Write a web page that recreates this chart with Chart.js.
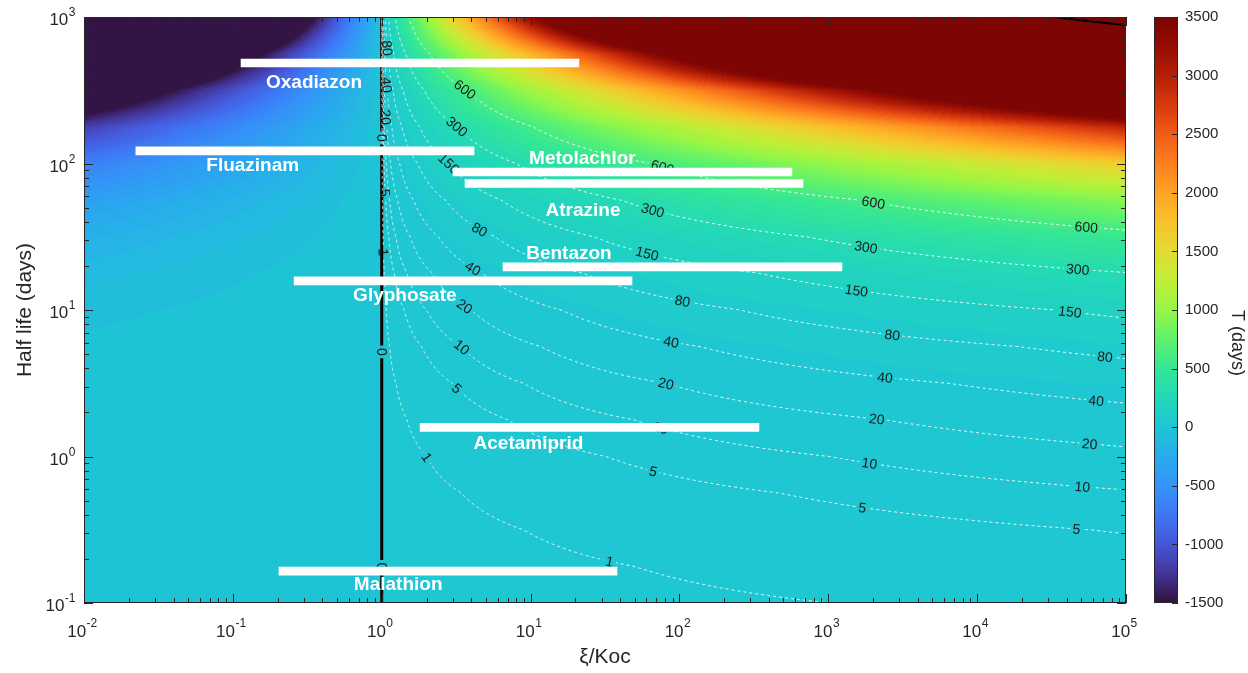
<!DOCTYPE html>
<html>
<head>
<meta charset="utf-8">
<title>Clearance time vs half life and ξ/Koc</title>
<script src="https://cdn.jsdelivr.net/npm/chart.js@4.4.1/dist/chart.umd.min.js"></script>
<style>
  html, body { margin: 0; padding: 0; background: #ffffff; }
  #wrap { width: 1248px; height: 673px; position: relative; }
</style>
</head>
<body>
<div id="wrap"><canvas id="c" width="1248" height="673"></canvas></div>
<script>
// ---------------- data ----------------
// grid nodes of the modelled surface
const xiKocNodes = [0.01, 0.0316, 0.1, 0.316, 1, 3.16, 10, 31.6, 100, 316, 1000, 3160, 10000, 31600, 100000];
const halfLifeNodes = [0.1, 0.178, 0.316, 0.562, 1, 1.78, 3.16, 5.62, 10, 17.8, 31.6, 56.2, 100, 178, 316, 562, 1000];
// T (days): one row per half-life node, one column per ξ/Koc node
const clearanceDays = [
  [-0.664, -0.498, -0.332, -0.166, 0, 0.166, 0.332, 0.498, 0.664, 0.830, 0.997, 1.16, 1.33, 1.49, 1.66],
  [-1.18, -0.886, -0.591, -0.295, 0, 0.295, 0.591, 0.886, 1.18, 1.48, 1.77, 2.07, 2.36, 2.66, 2.95],
  [-2.10, -1.58, -1.05, -0.525, 0, 0.525, 1.05, 1.58, 2.10, 2.63, 3.15, 3.68, 4.20, 4.73, 5.25],
  [-3.74, -2.80, -1.87, -0.934, 0, 0.934, 1.87, 2.80, 3.74, 4.67, 5.60, 6.54, 7.47, 8.41, 9.34],
  [-6.64, -4.98, -3.32, -1.66, 0, 1.66, 3.32, 4.98, 6.64, 8.31, 9.97, 11.6, 13.3, 14.9, 16.6],
  [-11.8, -8.86, -5.91, -2.95, 0, 2.95, 5.91, 8.86, 11.8, 14.8, 17.7, 20.7, 23.6, 26.6, 29.5],
  [-21.0, -15.8, -10.5, -5.25, 0, 5.25, 10.5, 15.8, 21.0, 26.3, 31.5, 36.8, 42.0, 47.3, 52.5],
  [-37.4, -28.0, -18.7, -9.34, 0, 9.34, 18.7, 28.0, 37.4, 46.7, 56.0, 65.4, 74.7, 84.1, 93.4],
  [-66.4, -49.8, -33.2, -16.6, 0, 16.6, 33.2, 49.8, 66.4, 83.1, 99.7, 116, 133, 149, 166],
  [-118, -88.6, -59.1, -29.5, 0, 29.5, 59.1, 88.6, 118, 148, 177, 207, 236, 266, 295],
  [-210, -158, -105, -52.5, 0, 52.5, 105, 158, 210, 263, 315, 368, 420, 473, 525],
  [-374, -280, -187, -93.4, 0, 93.4, 187, 280, 374, 467, 560, 654, 747, 841, 934],
  [-664, -498, -332, -166, 0, 166, 332, 498, 664, 831, 997, 1163, 1329, 1495, 1661],
  [-1181, -886, -591, -295, 0, 295, 591, 886, 1181, 1477, 1772, 2067, 2363, 2658, 2953],
  [-2101, -1576, -1050, -525, 0, 525, 1050, 1576, 2101, 2626, 3151, 3676, 4202, 4727, 5252],
  [-3736, -2802, -1868, -934, 0, 934, 1868, 2802, 3736, 4670, 5604, 6538, 7472, 8406, 9340],
  [-6644, -4983, -3322, -1661, 0, 1661, 3322, 4983, 6644, 8305, 9966, 11627, 13288, 14949, 16610]
];
// iso-lines of T (days)
const contourLevels = [1, 5, 10, 20, 40, 80, 150, 300, 600];
const boundaryLevels = [0, 15000];

// pesticides: half life (days) and ξ/Koc range
const pesticides = ['Oxadiazon', 'Fluazinam', 'Metolachlor', 'Atrazine', 'Bentazon', 'Glyphosate', 'Acetamiprid', 'Malathion'];
const halfLives  = [485, 122, 87.5, 73, 19.7, 15.8, 1.58, 0.165];
const xiKocLow   = [0.1135, 0.0223, 3.01, 3.63, 6.53, 0.258, 1.81, 0.204];
const xiKocHigh  = [21.1, 4.17, 570, 676, 1236, 48.0, 342, 38.1];

// axis tick labels
const xTickPowers = [-2, -1, 0, 1, 2, 3, 4, 5];
const yTickPowers = [-1, 0, 1, 2, 3];
const colorTicks = [-1500, -1000, -500, 0, 500, 1000, 1500, 2000, 2500, 3000, 3500];

// ---------------- layout of annotations ----------------
// where the iso-line labels sit (by ξ/Koc, or by half life where the line is steep)
const labelSpots = [
  { level: 600, atXi: [3.62, 76.4, 1995, 53800] },
  { level: 300, atXi: [3.21, 66.4, 1766, 46900] },
  { level: 150, atXi: [2.83, 60.5, 1560, 41400] },
  { level: 80,  atXi: [4.57, 104, 2723, 73500], atHalfLife: [614] },
  { level: 40,  atXi: [4.10, 89.1, 2366, 63800], atHalfLife: [343] },
  { level: 20,  atXi: [3.62, 81.3, 2089, 56400], atHalfLife: [207] },
  { level: 10,  atXi: [3.46, 74.0, 1875, 49900] },
  { level: 5,   atXi: [3.21, 66.4, 1710, 46100], atHalfLife: [63] },
  { level: 1,   atXi: [2.01, 34.2], atHalfLife: [24.8] },
  { level: 0,   atHalfLife: [149, 5.17, 0.178] }
];
// anchor of each pesticide name (ξ/Koc, half life)
const nameAnchors = [
  [0.351, 366], [0.136, 99], [22.3, 110], [22.5, 48.9],
  [18.1, 24.9], [1.43, 12.9], [9.68, 1.26], [1.29, 0.137]
];

const INK = '#262626';
const SANS = '"Liberation Sans", Arial, Helvetica, sans-serif';

// ---------------- colour map (turbo-like) ----------------
const turboStops = [
  [48, 18, 59], [68, 52, 150], [70, 86, 215], [62, 118, 245], [52, 148, 248],
  [40, 172, 236], [30, 197, 212], [34, 216, 184], [52, 230, 150], [95, 242, 108],
  [150, 246, 70], [192, 238, 55], [224, 220, 50], [248, 194, 42], [254, 163, 36],
  [252, 128, 30], [240, 92, 22], [214, 58, 14], [182, 30, 7], [150, 13, 3], [122, 4, 3]
];
function turbo(t) {
  t = Math.min(1, Math.max(0, t));
  const f = t * (turboStops.length - 1);
  const i = Math.min(turboStops.length - 2, Math.floor(f));
  const u = f - i;
  const a = turboStops[i], b = turboStops[i + 1];
  return [0, 1, 2].map(k => Math.round(a[k] + (b[k] - a[k]) * u));
}
const cMin = colorTicks[0], cMax = colorTicks[colorTicks.length - 1];
const bandDays = 50;
const bandCount = Math.round((cMax - cMin) / bandDays);
const bandPalette = [];
for (let k = 0; k < bandCount; k++) bandPalette.push(turbo((k + 0.5) / bandCount));
function bandColour(T) {
  let k = Math.floor((T - cMin) / bandDays);
  if (k < 0) k = 0;
  if (k > bandCount - 1) k = bandCount - 1;
  return bandPalette[k];
}

// ---------------- grid helpers ----------------
const lxi = xiKocNodes.map(v => Math.log10(v));
const lhl = halfLifeNodes.map(v => Math.log10(v));
function locate(nodes, v) {
  const n = nodes.length;
  if (v <= nodes[0]) return [0, 0];
  if (v >= nodes[n - 1]) return [n - 2, 1];
  let i = 0;
  while (i < n - 2 && v > nodes[i + 1]) i++;
  return [i, (v - nodes[i]) / (nodes[i + 1] - nodes[i])];
}
function rowAt(b) {
  const [i, s] = locate(lhl, b);
  return clearanceDays[i].map((v, j) => v * (1 - s) + clearanceDays[i + 1][j] * s);
}
// trace one iso-line through the gridded surface, row by row
function traceContour(level) {
  const pts = [];
  const b0 = lhl[0], b1 = lhl[lhl.length - 1];
  const steps = 2000;
  for (let s = 0; s <= steps; s++) {
    const b = b0 + (b1 - b0) * s / steps;
    const row = rowAt(b);
    for (let j = 0; j < row.length - 1; j++) {
      const v0 = row[j] - level, v1 = row[j + 1] - level;
      if (v0 <= 0 && v1 > 0) {
        const a = lxi[j] + (lxi[j + 1] - lxi[j]) * (-v0) / (v1 - v0);
        pts.push({ x: Math.pow(10, a), y: Math.pow(10, b) });
        break;
      }
    }
  }
  return pts;
}

// ---------------- datasets ----------------
const rangeSet = {
  type: 'bar', kind: 'range', label: 'ξ/Koc range',
  indexAxis: 'y',
  data: pesticides.map((p, i) => ({ y: halfLives[i], x: [xiKocLow[i], xiKocHigh[i]] })),
  backgroundColor: '#ffffff', borderWidth: 0, barThickness: 8, order: 0
};
const contourSets = contourLevels.map(L => ({
  type: 'line', kind: 'contour', level: L, label: 'T = ' + L,
  data: traceContour(L),
  borderColor: 'rgba(255,255,255,0.9)', borderWidth: 1, borderDash: [3, 3],
  pointRadius: 0, tension: 0, fill: false, order: 1
}));
const boundarySets = boundaryLevels.map((L, k) => ({
  type: 'line', kind: 'contour', level: L, label: 'T = ' + L,
  data: traceContour(L),
  borderColor: '#000000', borderWidth: k === 0 ? 3 : 2,
  pointRadius: 0, tension: 0, fill: false, order: 1
}));

// ---------------- plugins ----------------
const LABEL_FONT = '14px ' + SANS;

function layoutLabels(chart) {
  const { ctx, scales: { x, y } } = chart;
  ctx.save();
  ctx.font = LABEL_FONT;
  const out = [];
  labelSpots.forEach(spec => {
    const ds = chart.data.datasets.find(d => d.kind === 'contour' && d.level === spec.level);
    if (!ds || !ds.data.length) return;
    const pts = ds.data.map(p => [x.getPixelForValue(p.x), y.getPixelForValue(p.y)]);
    const targets = [];
    (spec.atXi || []).forEach(v => targets.push({ px: x.getPixelForValue(v) }));
    (spec.atHalfLife || []).forEach(v => targets.push({ py: y.getPixelForValue(v) }));
    targets.forEach(tg => {
      let best = 0, bd = Infinity;
      pts.forEach((p, k) => {
        const d = tg.px !== undefined ? Math.abs(p[0] - tg.px) : Math.abs(p[1] - tg.py);
        if (d < bd) { bd = d; best = k; }
      });
      let k0 = best, k1 = best;
      const c = pts[best];
      while (k0 > 0 && Math.hypot(pts[k0][0] - c[0], pts[k0][1] - c[1]) < 12) k0--;
      while (k1 < pts.length - 1 && Math.hypot(pts[k1][0] - c[0], pts[k1][1] - c[1]) < 12) k1++;
      let ang = Math.atan2(pts[k1][1] - pts[k0][1], pts[k1][0] - pts[k0][0]);
      if (ang > Math.PI / 2) ang -= Math.PI;
      if (ang <= -Math.PI / 2) ang += Math.PI;
      const text = String(spec.level);
      out.push({ level: spec.level, px: c[0], py: c[1], ang, text, w: ctx.measureText(text).width + 5, h: 13 });
    });
  });
  ctx.restore();
  return out;
}

function drawContourLabels(chart) {
  const ctx = chart.ctx;
  ctx.save();
  ctx.font = LABEL_FONT;
  ctx.fillStyle = '#1a1a1a';
  ctx.textAlign = 'center';
  ctx.textBaseline = 'middle';
  (chart.$isoLabels || []).forEach(l => {
    ctx.save();
    ctx.translate(l.px, l.py);
    ctx.rotate(l.ang);
    ctx.fillText(l.text, 0, 1);
    ctx.restore();
  });
  ctx.restore();
}

const surfacePlugin = {
  id: 'surface',
  beforeDatasetsDraw(chart) {
    const { ctx, chartArea: ca, scales: { x, y } } = chart;
    const x0 = Math.round(ca.left), y0 = Math.round(ca.top);
    const w = Math.round(ca.right) - x0, h = Math.round(ca.bottom) - y0;
    const img = ctx.createImageData(w, h);
    const colI = new Int32Array(w), colT = new Float64Array(w);
    for (let i = 0; i < w; i++) {
      const a = Math.log10(x.getValueForPixel(x0 + i + 0.5));
      const [j, t] = locate(lxi, a);
      colI[i] = j; colT[i] = t;
    }
    for (let r = 0; r < h; r++) {
      const b = Math.log10(y.getValueForPixel(y0 + r + 0.5));
      const [ri, s] = locate(lhl, b);
      const R0 = clearanceDays[ri], R1 = clearanceDays[ri + 1];
      for (let i = 0; i < w; i++) {
        const j = colI[i], t = colT[i];
        const lo = R0[j] * (1 - t) + R0[j + 1] * t;
        const hi = R1[j] * (1 - t) + R1[j + 1] * t;
        const T = lo * (1 - s) + hi * s;
        const c = bandColour(T);
        const o = (r * w + i) * 4;
        img.data[o] = c[0]; img.data[o + 1] = c[1]; img.data[o + 2] = c[2]; img.data[o + 3] = 255;
      }
    }
    ctx.putImageData(img, x0, y0);
    chart.$isoLabels = layoutLabels(chart);
    chart.$labelsDone = false;
  },
  beforeDatasetDraw(chart, args) {
    const ds = chart.data.datasets[args.index];
    const ctx = chart.ctx;
    if (ds.kind === 'range' && !chart.$labelsDone) {
      drawContourLabels(chart);
      chart.$labelsDone = true;
    }
    if (ds.kind === 'contour') {
      // leave a gap in the line under each of its labels
      const labs = (chart.$isoLabels || []).filter(l => l.level === ds.level);
      ctx.save();
      ctx.beginPath();
      ctx.rect(0, 0, chart.width, chart.height);
      labs.forEach(l => {
        const c = Math.cos(l.ang), s = Math.sin(l.ang), hw = l.w / 2, hh = l.h / 2;
        const pts = [[-hw, -hh], [hw, -hh], [hw, hh], [-hw, hh]].map(([u, v]) => [l.px + u * c - v * s, l.py + u * s + v * c]);
        ctx.moveTo(pts[0][0], pts[0][1]);
        for (let k = 1; k < 4; k++) ctx.lineTo(pts[k][0], pts[k][1]);
        ctx.closePath();
      });
      ctx.clip('evenodd');
    }
  },
  afterDatasetDraw(chart, args) {
    const ds = chart.data.datasets[args.index];
    if (ds.kind === 'contour') chart.ctx.restore();
  },
  afterDatasetsDraw(chart) {
    if (!chart.$labelsDone) { drawContourLabels(chart); chart.$labelsDone = true; }
    const { ctx, scales: { x, y } } = chart;
    ctx.save();
    ctx.font = 'bold 19px ' + SANS;
    ctx.fillStyle = '#ffffff';
    ctx.textAlign = 'center';
    ctx.textBaseline = 'alphabetic';
    pesticides.forEach((name, i) => {
      const px = x.getPixelForValue(nameAnchors[i][0]);
      const py = y.getPixelForValue(nameAnchors[i][1]);
      ctx.fillText(name, px, py + 7);
    });
    ctx.restore();
  }
};

function drawPow(ctx, exp, x, yBase, yExpBase, align) {
  const big = '17px ' + SANS, small = '12px ' + SANS;
  ctx.font = big; const w1 = ctx.measureText('10').width;
  ctx.font = small; const w2 = ctx.measureText(String(exp)).width;
  let left;
  if (align === 'right') left = x - w1 - w2;
  else left = x - (w1 + w2) / 2;
  ctx.textAlign = 'left';
  ctx.textBaseline = 'alphabetic';
  ctx.font = big; ctx.fillText('10', left, yBase);
  ctx.font = small; ctx.fillText(String(exp), left + w1 + 0.5, yExpBase);
}

const axesPlugin = {
  id: 'axesFrame',
  afterDraw(chart) {
    const { ctx, chartArea: ca, scales: { x, y, cb } } = chart;
    ctx.save();
    // inward ticks on all four sides
    ctx.strokeStyle = INK;
    ctx.lineWidth = 1;
    ctx.beginPath();
    for (let k = xTickPowers[0]; k <= xTickPowers[xTickPowers.length - 1]; k++) {
      for (let m = 1; m <= 9; m++) {
        const v = m * Math.pow(10, k);
        if (v > x.max * 1.0001) break;
        const px = Math.round(x.getPixelForValue(v)) + 0.5;
        const len = m === 1 ? 9 : 5;
        ctx.moveTo(px, ca.bottom); ctx.lineTo(px, ca.bottom - len);
        ctx.moveTo(px, ca.top); ctx.lineTo(px, ca.top + len);
      }
    }
    for (let k = yTickPowers[0]; k <= yTickPowers[yTickPowers.length - 1]; k++) {
      for (let m = 1; m <= 9; m++) {
        const v = m * Math.pow(10, k);
        if (v > y.max * 1.0001) break;
        const py = Math.round(y.getPixelForValue(v)) + 0.5;
        const len = m === 1 ? 9 : 5;
        ctx.moveTo(ca.left, py); ctx.lineTo(ca.left + len, py);
        ctx.moveTo(ca.right, py); ctx.lineTo(ca.right - len, py);
      }
    }
    ctx.stroke();
    ctx.strokeRect(ca.left + 0.5, ca.top + 0.5, ca.right - ca.left - 1, ca.bottom - ca.top - 1);

    // tick labels with superscript exponents
    ctx.fillStyle = INK;
    xTickPowers.forEach(p => {
      const px = x.getPixelForValue(Math.pow(10, p));
      drawPow(ctx, p, px - 2, ca.bottom + 34, ca.bottom + 24, 'center');
    });
    yTickPowers.forEach(p => {
      const py = y.getPixelForValue(Math.pow(10, p));
      drawPow(ctx, p, ca.left - 9, py + 8, py - 1, 'right');
    });

    // axis titles
    ctx.font = '21px ' + SANS;
    ctx.textAlign = 'center';
    ctx.textBaseline = 'middle';
    ctx.fillText('ξ/Koc', (ca.left + ca.right) / 2, 657);
    ctx.save();
    ctx.translate(25, (ca.top + ca.bottom) / 2);
    ctx.rotate(-Math.PI / 2);
    ctx.fillText('Half life (days)', 0, 0);
    ctx.restore();

    // colour bar
    const bx = ca.right + 28, bw = 24;
    for (let py = Math.round(ca.top); py < Math.round(ca.bottom); py++) {
      const v = cb.getValueForPixel(py + 0.5);
      const c = turbo((v - cMin) / (cMax - cMin));
      ctx.fillStyle = 'rgb(' + c[0] + ',' + c[1] + ',' + c[2] + ')';
      ctx.fillRect(bx, py, bw, 1);
    }
    ctx.strokeStyle = INK;
    ctx.lineWidth = 1;
    ctx.strokeRect(bx + 0.5, ca.top + 0.5, bw - 1, ca.bottom - ca.top - 1);
    ctx.beginPath();
    colorTicks.forEach(v => {
      const py = Math.round(cb.getPixelForValue(v)) + 0.5;
      ctx.moveTo(bx + bw, py); ctx.lineTo(bx + bw - 6, py);
    });
    ctx.stroke();
    ctx.fillStyle = INK;
    ctx.font = '18px ' + SANS;
    ctx.save();
    ctx.translate(1237, 343);
    ctx.rotate(Math.PI / 2);
    ctx.textAlign = 'center';
    ctx.textBaseline = 'middle';
    ctx.fillText('T (days)', 0, 0);
    ctx.restore();
    ctx.restore();
  }
};

// ---------------- chart ----------------
const noPad = s => { s.paddingTop = 0; s.paddingBottom = 0; s.paddingLeft = 0; s.paddingRight = 0; };
new Chart(document.getElementById('c'), {
  data: { datasets: [rangeSet, ...contourSets, ...boundarySets] },
  options: {
    responsive: false,
    animation: false,
    devicePixelRatio: 1,
    events: [],
    layout: { autoPadding: false, padding: { left: 0, right: 0, top: 17, bottom: 0 } },
    plugins: { legend: { display: false }, tooltip: { enabled: false } },
    scales: {
      x: {
        type: 'logarithmic', position: 'bottom', min: 0.01, max: 100000, offset: false,
        ticks: { display: false }, grid: { display: false, drawTicks: false }, border: { display: false },
        afterFit: s => { s.height = 70; noPad(s); }
      },
      y: {
        type: 'logarithmic', position: 'left', min: 0.1, max: 1000, offset: false,
        ticks: { display: false }, grid: { display: false, drawTicks: false }, border: { display: false },
        afterFit: s => { s.width = 84; noPad(s); }
      },
      cb: {
        type: 'linear', position: 'right', min: cMin, max: cMax, offset: false,
        ticks: {
          stepSize: 500, padding: 59, autoSkip: false, color: INK,
          font: { family: SANS, size: 15 },
          callback: v => String(v)
        },
        grid: { display: false, drawTicks: false }, border: { display: false },
        afterFit: s => { s.width = 122; noPad(s); }
      }
    }
  },
  plugins: [surfacePlugin, axesPlugin]
});
</script>
</body>
</html>
